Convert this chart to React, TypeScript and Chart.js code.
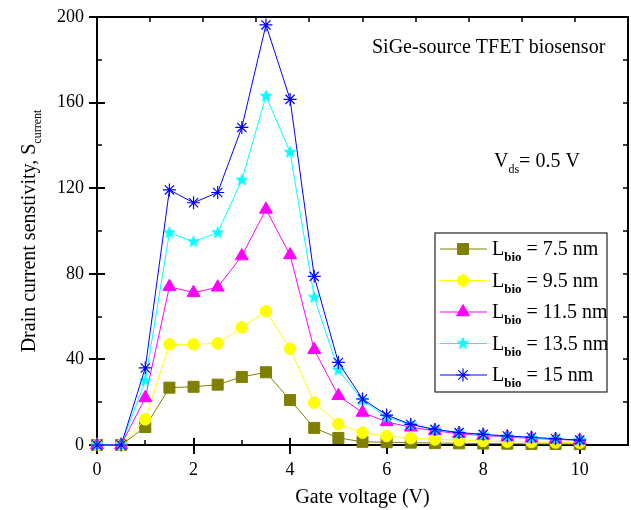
import React, { useEffect, useRef } from 'react';
import { Chart, registerables } from 'chart.js';
import { drawPoint } from 'chart.js/helpers';

Chart.register(...registerables);

// Gate voltage sweep (V)
const gateVoltage = [0, 0.5, 1, 1.5, 2, 2.5, 3, 3.5, 4, 4.5, 5, 5.5, 6, 6.5, 7, 7.5, 8, 8.5, 9, 9.5, 10];

// Drain current sensitivity for each biomolecule cavity length
const sensLbio75 = [0, 0, 8.4, 26.8, 27.2, 28.2, 31.8, 34, 21, 8, 3.3, 1.5, 1.3, 1.1, 0.9, 0.8, 0.7, 0.6, 0.5, 0.5, 0.4];
const sensLbio95 = [0, 0, 12, 47, 47, 47.5, 55, 62.5, 45, 19.8, 9.8, 5.8, 4.2, 3.2, 2.6, 2.2, 1.9, 1.6, 1.4, 1.2, 1.1];
const sensLbio115 = [0, 0, 22, 74, 71.2, 73.7, 88.3, 110.1, 88.8, 44.5, 23, 15.2, 10.8, 8.3, 6.6, 5.3, 4.4, 3.7, 3.1, 2.6, 2.2];
const sensLbio135 = [0, 0, 30, 99.2, 95, 99.2, 123.8, 163, 136.8, 69, 35, 21, 13, 9.5, 7.2, 5.7, 4.7, 3.9, 3.3, 2.8, 2.3];
const sensLbio150 = [0, 0, 36, 119.2, 113.2, 118, 148.4, 196.3, 161.5, 78.8, 38.6, 21.5, 14, 9.6, 7.3, 5.8, 5, 4.2, 3.6, 2.9, 2.3];

const seriesLabels = ['7.5 nm', '9.5 nm', '11.5 nm', '13.5 nm', '15 nm'];
const seriesValues = [sensLbio75, sensLbio95, sensLbio115, sensLbio135, sensLbio150];

// Axis ticks
const xMajorTicks = [0, 2, 4, 6, 8, 10];
const xMinorTicks = [1, 3, 5, 7, 9];
const yMajorTicks = [0, 40, 80, 120, 160, 200];
const yMinorTicks = [20, 60, 100, 140, 180];

const FONT = '"Liberation Serif", "Times New Roman", serif';

function makeStar(color: string, outer: number, inner: number): HTMLCanvasElement {
  const size = Math.ceil(outer * 2 + 2);
  const c = document.createElement('canvas');
  c.width = size;
  c.height = size;
  const g = c.getContext('2d')!;
  g.beginPath();
  for (let i = 0; i < 10; i++) {
    const r = i % 2 === 0 ? outer : inner;
    const a = -Math.PI / 2 + (i * Math.PI) / 5;
    g.lineTo(size / 2 + r * Math.cos(a), size / 2 + r * Math.sin(a));
  }
  g.closePath();
  g.fillStyle = color;
  g.fill();
  return c;
}

type MarkerStyle = { color: string; pointStyle: any; radius: number; borderWidth: number };

function buildMarkers(): MarkerStyle[] {
  return [
    { color: '#808000', pointStyle: 'rect', radius: 7.8, borderWidth: 1 },
    { color: '#ffff00', pointStyle: 'circle', radius: 5.8, borderWidth: 1 },
    { color: '#ff00ff', pointStyle: 'triangle', radius: 7.5, borderWidth: 1 },
    { color: '#00ffff', pointStyle: makeStar('#00ffff', 7, 3), radius: 7, borderWidth: 0 },
    { color: '#0000ff', pointStyle: 'star', radius: 6.5, borderWidth: 1.2 },
  ];
}

function drawSubText(
  ctx: CanvasRenderingContext2D,
  x: number,
  y: number,
  parts: { text: string; size: number; sub?: boolean; bold?: boolean }[]
) {
  let cx = x;
  for (const p of parts) {
    ctx.font = `${p.bold ? 'bold ' : ''}${p.size}px ${FONT}`;
    ctx.fillText(p.text, cx, p.sub ? y + 6 : y);
    cx += ctx.measureText(p.text).width;
  }
  return cx - x;
}

function measureParts(ctx: CanvasRenderingContext2D, parts: { text: string; size: number; bold?: boolean }[]) {
  let w = 0;
  for (const p of parts) {
    ctx.font = `${p.bold ? 'bold ' : ''}${p.size}px ${FONT}`;
    w += ctx.measureText(p.text).width;
  }
  return w;
}

export default function App() {
  const canvasRef = useRef<HTMLCanvasElement | null>(null);

  useEffect(() => {
    const canvas = canvasRef.current;
    if (!canvas) return;
    const markers = buildMarkers();

    const framePlugin = {
      id: 'frameTicks',
      beforeDatasetsDraw(chart: any) {
        const { ctx, chartArea } = chart;
        const { left, right, top, bottom } = chartArea;
        const xs = chart.scales.x;
        const ys = chart.scales.y;
        ctx.save();
        ctx.strokeStyle = '#000';
        ctx.lineWidth = 2;
        ctx.strokeRect(left, top, right - left, bottom - top);
        ctx.beginPath();
        for (const v of xMajorTicks) {
          const px = Math.round(xs.getPixelForValue(v));
          ctx.moveTo(px, bottom - 7);
          ctx.lineTo(px, bottom + 9);
        }
        for (const v of yMajorTicks) {
          const py = Math.round(ys.getPixelForValue(v));
          ctx.moveTo(left - 8, py);
          ctx.lineTo(left + 8, py);
        }
        ctx.stroke();
        ctx.lineWidth = 1.5;
        ctx.beginPath();
        for (const v of xMinorTicks) {
          const px = Math.round(xs.getPixelForValue(v));
          ctx.moveTo(px, bottom);
          ctx.lineTo(px, bottom - 5);
        }
        for (const v of yMinorTicks) {
          const py = Math.round(ys.getPixelForValue(v));
          ctx.moveTo(left, py);
          ctx.lineTo(left + 5, py);
        }
        // top axis: ten equal divisions
        for (let k = 1; k < 10; k++) {
          const px = Math.round(left + (k * (right - left)) / 10);
          ctx.moveTo(px, top);
          ctx.lineTo(px, top + 5);
        }
        // right axis: every 20 units
        for (const v of [...yMinorTicks, ...yMajorTicks.slice(1, -1)]) {
          const py = Math.round(ys.getPixelForValue(v));
          ctx.moveTo(right, py);
          ctx.lineTo(right - 5, py);
        }
        ctx.stroke();
        ctx.restore();
      },
      afterDraw(chart: any) {
        const { ctx, chartArea } = chart;
        const { left, right, top, bottom } = chartArea;
        ctx.save();
        ctx.fillStyle = '#000';
        ctx.textBaseline = 'alphabetic';
        ctx.textAlign = 'left';

        // x axis title
        ctx.font = `20px ${FONT}`;
        const xt = 'Gate voltage (V)';
        const xtw = ctx.measureText(xt).width;
        ctx.fillText(xt, (left + right) / 2 - xtw / 2, 503);

        // y axis title with subscript
        const yParts = [
          { text: 'Drain current senstivity, S', size: 20 },
          { text: 'current', size: 12, sub: true },
        ];
        const ytw = measureParts(ctx, yParts);
        ctx.save();
        ctx.translate(35, (top + bottom) / 2);
        ctx.rotate(-Math.PI / 2);
        drawSubText(ctx, -ytw / 2, 0, yParts);
        ctx.restore();

        // annotations
        ctx.font = `20px ${FONT}`;
        ctx.fillText('SiGe-source TFET biosensor', 372, 53);
        drawSubText(ctx, 494, 167, [
          { text: 'V', size: 20 },
          { text: 'ds', size: 12, sub: true },
          { text: '= 0.5 V', size: 20 },
        ]);

        // legend
        const lx = 435;
        const ly = 233;
        const lw = 172;
        const lh = 159;
        ctx.fillStyle = '#fff';
        ctx.fillRect(lx, ly, lw, lh);
        ctx.strokeStyle = '#222';
        ctx.lineWidth = 1.2;
        ctx.strokeRect(lx, ly, lw, lh);
        seriesLabels.forEach((lab, i) => {
          const m = markers[i];
          const cy = 249 + i * 31.5;
          ctx.strokeStyle = m.color;
          ctx.lineWidth = 1;
          ctx.beginPath();
          ctx.moveTo(440, cy);
          ctx.lineTo(487, cy);
          ctx.stroke();
          ctx.fillStyle = m.color;
          ctx.strokeStyle = m.color;
          ctx.lineWidth = m.borderWidth;
          drawPoint(ctx, { pointStyle: m.pointStyle, radius: m.radius, rotation: 0, borderWidth: m.borderWidth } as any, 463, cy);
          ctx.fillStyle = '#000';
          drawSubText(ctx, 492, cy + 6, [
            { text: 'L', size: 20 },
            { text: 'bio', size: 13, sub: true, bold: true },
            { text: ' = ' + lab, size: 20 },
          ]);
        });
        ctx.restore();
      },
    };

    const datasets = seriesValues.map((vals, i) => {
      const m = markers[i];
      return {
        label: seriesLabels[i],
        data: gateVoltage.map((x, j) => ({ x, y: vals[j] })),
        borderColor: m.color,
        backgroundColor: m.color,
        borderWidth: 1,
        pointStyle: m.pointStyle,
        pointRadius: m.radius,
        pointBorderWidth: m.borderWidth,
        pointBorderColor: m.color,
        pointBackgroundColor: m.color,
        tension: 0,
        clip: false as any,
        order: seriesLabels.length - 1 - i,
      };
    });

    const chart = new Chart(canvas, {
      type: 'line',
      data: { datasets },
      options: {
        animation: false,
        responsive: false,
        devicePixelRatio: 1,
        layout: { autoPadding: false, padding: { top: 17, right: 3, left: 0, bottom: 0 } },
        plugins: { legend: { display: false }, tooltip: { enabled: false } },
        scales: {
          x: {
            type: 'linear',
            min: 0,
            max: 11,
            grid: { display: false, drawTicks: false },
            border: { display: false },
            ticks: { font: { family: FONT, size: 18 }, color: '#000', padding: 14, maxRotation: 0 },
            afterBuildTicks: (s: any) => {
              s.ticks = xMajorTicks.map((value) => ({ value }));
            },
            afterFit: (s: any) => {
              s.height = 65;
              s.paddingLeft = 0;
              s.paddingRight = 0;
            },
          },
          y: {
            type: 'linear',
            min: 0,
            max: 200,
            grid: { display: false, drawTicks: false },
            border: { display: false },
            ticks: { font: { family: FONT, size: 18 }, color: '#000', padding: 13 },
            afterBuildTicks: (s: any) => {
              s.ticks = yMajorTicks.map((value) => ({ value }));
            },
            afterFit: (s: any) => {
              s.width = 97;
              s.paddingTop = 0;
              s.paddingBottom = 0;
            },
          },
        },
      },
      plugins: [framePlugin],
    });

    return () => chart.destroy();
  }, []);

  return (
    <div style={{ position: 'fixed', left: 0, top: 0, width: 631, height: 510, background: '#fff' }}>
      <canvas ref={canvasRef} width={631} height={510} style={{ display: 'block' }} />
    </div>
  );
}
